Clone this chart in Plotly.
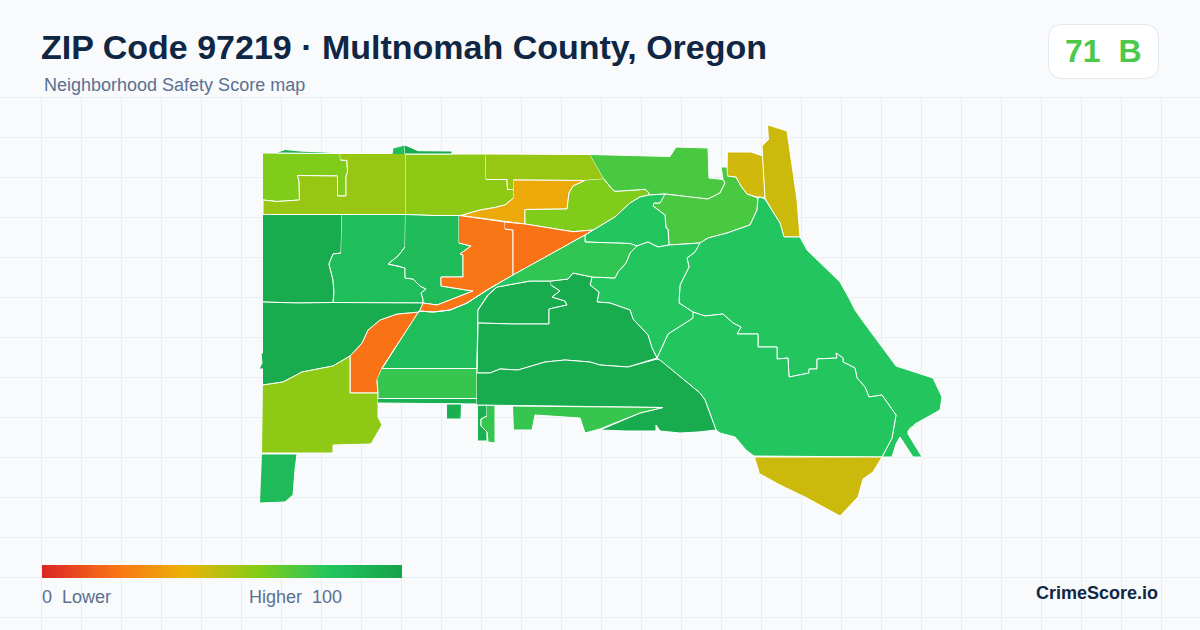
import plotly.graph_objects as go
from plotly.colors import sample_colorscale

# score colour ramp, same one the legend bar shows
score_stops = [0, 0.2, 0.4, 0.6, 0.8, 1]
score_colors = ['#dc2626', '#f97316', '#eab308', '#84cc16', '#22c55e', '#16a34a']
colorscale = [[s, c] for s, c in zip(score_stops, score_colors)]

title = 'ZIP Code 97219 · Multnomah County, Oregon'
subtitle = 'Neighborhood Safety Score map'
overall_score = '71\u00a0\u00a0B'
brand = 'CrimeScore.io'
legend_low = '0\u00a0\u00a0Lower'
legend_high = 'Higher\u00a0\u00a0100'
legend_values = list(range(0, 101))

# block group outlines, traced in map units
nw_lime = [(263, 153), (340, 153.5), (340.5, 160), (347, 160.5), (347.5, 172), (346, 176), (346, 196), (337.5, 196),
           (337.5, 176), (297.5, 175.5), (299, 181), (299.5, 200), (277, 201.5), (263, 200)]
nw_olive = [(340, 153.5), (405.5, 153.5), (405.5, 214.5), (263, 214.5), (263, 200), (277, 201.5), (299.5, 200),
            (299, 181), (297.5, 175.5), (337.5, 176), (337.5, 196), (346, 196), (346, 176), (347.5, 172),
            (347, 160.5), (340.5, 160)]
north_mid = [(405.5, 154), (485.5, 154), (486, 179.5), (507, 179.5), (507.5, 189.5), (513.5, 189.5), (513.5, 198),
             (505, 205), (495, 207.5), (480, 210), (461, 215.5), (433, 215.5), (405.5, 214.5)]
north_top = [(485.5, 154), (590, 154.5), (604, 179), (585, 180.5), (513.5, 180), (513.5, 189.5), (507.5, 189.5),
             (507, 179.5), (486, 179.5)]
amber = [(513.5, 180), (585, 180.5), (573, 186), (569, 193), (567, 209), (525, 209.5), (525, 224), (461, 215.5),
         (480, 210), (495, 207.5), (505, 205), (513.5, 198)]
north_east_lime = [(604, 179), (612, 189), (615, 191.3), (625, 190.7), (645, 189.3), (649, 192.7), (649, 195),
                   (640, 197), (630, 203), (615, 217), (595, 229), (593, 230), (573, 231.7), (525, 224),
                   (525, 209.5), (567, 209), (569, 193), (573, 186), (585, 180.5)]
north_green = [(590, 154.5), (650, 156), (670, 156.5), (676, 147), (708, 148), (709, 178), (723, 179.5), (725, 183),
               (720, 193), (708, 199), (697, 198), (665, 194), (649, 195), (649, 192.7), (645, 189.3),
               (625, 190.7), (615, 191.3), (612, 189), (604, 179)]
ridge_green = [(665, 194), (697, 198), (708, 199), (720, 193), (725, 183), (723, 179.5), (721, 167),
               (727, 167), (727.5, 176), (736, 177), (741, 186), (747, 194), (756, 197), (758, 198), (757, 210),
               (750, 225), (727, 233), (708, 238), (700, 243), (669, 245), (668, 229), (666, 228), (665, 215),
               (653, 206), (654, 203), (660, 203)]
yellow_left = [(728, 152), (751, 152), (763, 156), (765, 198), (760, 197), (757, 197), (747, 194), (741, 186),
               (736, 177), (727.5, 176)]
yellow_tall = [(768, 125), (787, 131), (792, 165), (797, 200), (800, 237), (784, 237), (780, 223), (773, 212),
               (765, 198), (763, 156), (762, 146), (769, 139)]
east_big = [(700, 243), (708, 238), (727, 233), (750, 225), (757, 210), (758, 198), (760, 197), (765, 199), (773, 212),
            (780, 223), (784, 237), (800, 237), (807, 250), (820, 263), (840, 282), (850, 300), (855, 310),
            (862, 320), (896, 366), (933, 378), (942, 397), (940, 410), (927, 417), (915, 424), (908, 431),
            (908, 434), (922, 457), (913, 457), (900, 437), (896, 444), (892, 457), (882, 457), (892, 438),
            (896, 415), (882, 395), (869, 397), (865, 387), (857, 378), (855, 368), (843, 362), (843, 358),
            (836, 353), (837, 358), (817, 359), (817, 369), (809, 369), (809, 373), (789, 377), (788, 358),
            (777, 359), (777, 347), (758, 347), (758, 334), (737, 334), (741, 327), (733, 323), (723, 314),
            (705, 316), (693, 312), (679, 303), (680, 285), (689, 267), (687, 258), (695, 252)]
south_east = [(693, 312), (705, 316), (723, 314), (733, 323), (741, 327), (737, 334), (758, 334), (758, 347),
              (777, 347), (777, 359), (788, 358), (789, 377), (809, 373), (809, 369), (817, 369), (817, 359),
              (837, 358), (836, 353), (843, 358), (843, 362), (855, 368), (857, 378), (865, 387), (869, 397),
              (882, 395), (896, 415), (892, 438), (882, 457), (754, 456), (746, 450), (735, 437), (720, 433),
              (716, 430), (705, 400), (700, 393), (660, 360), (657, 358), (668, 334), (693, 318)]
south_sliver = [(923, 420), (910, 428), (908, 432), (913, 427)]
yellow_south = [(755, 457), (882, 457), (873, 472), (863, 479), (858, 497), (840, 516), (805, 497), (780, 485),
                (760, 474)]
rail_north = [(585, 235), (595, 229), (615, 217), (630, 203), (640, 197), (649, 195), (665, 194), (660, 203),
              (654, 203), (653, 206), (665, 215), (666, 228), (668, 229), (669, 245), (658, 247), (648, 242),
              (637, 246), (585, 242)]
rail_area = [(585, 235), (585, 242), (630, 243.5), (637, 246), (630, 253), (626, 263), (618, 272), (615, 278),
             (592, 277), (573, 273), (568, 279), (551, 281), (530, 281), (497, 287), (488, 295), (478, 310),
             (477, 368.5), (382, 368.5), (397, 345), (419, 311), (433, 312), (450, 310), (467, 303), (487, 290),
             (513, 275)]
# lighter patch and a blend step on the east end of the rail area, no edge of their own
rail_east = [(585, 235), (585, 242), (630, 243.5), (637, 246), (630, 253), (626, 263), (618, 272), (615, 278),
             (592, 277), (573, 273), (568, 279), (551, 281), (530, 281), (518, 283), (518, 272)]
rail_blend = [(518, 272), (518, 283), (497, 287), (498, 284)]
center_green = [(637, 246), (648, 242), (658, 247), (669, 245), (700, 243), (695, 252), (687, 258), (689, 267),
                (680, 285), (679, 303), (693, 312), (693, 318), (668, 334), (657, 358), (652, 348), (648, 335),
                (633, 319), (630, 310), (610, 303), (597, 302), (599, 292), (590, 285), (592, 277), (615, 278),
                (618, 272), (626, 263), (630, 253)]
west_dark = [(263, 214.5), (342, 214.5), (341, 253), (333, 254), (329, 264), (333, 280), (334, 293), (333, 302.5),
             (298, 303), (263, 302)]
west_green = [(342, 214.5), (405.5, 214.5), (405, 247), (398, 256), (388, 264), (398, 266), (405, 268), (405, 278),
              (413, 279), (420, 286), (426, 289), (421, 293), (423, 299), (423, 303), (384, 303), (333, 302.5),
              (334, 293), (333, 280), (329, 264), (333, 254), (341, 253)]
mid_green = [(405.5, 214.5), (433, 215.5), (459, 215.5), (459, 243), (471, 246), (460, 254), (463, 255), (463, 277),
             (441, 277), (441, 286), (473, 291), (437, 305), (423, 303), (423, 299), (421, 293), (426, 289),
             (420, 286), (413, 279), (405, 278), (405, 268), (398, 266), (388, 264), (398, 256), (405, 247)]
orange_left = [(459, 215.5), (505, 222), (505, 229), (513, 230), (513, 275), (487, 290), (467, 303), (450, 310),
               (433, 312), (419, 311), (423, 303), (437, 305), (473, 291), (441, 286), (441, 277),
               (463, 277), (463, 255), (460, 254), (471, 246), (459, 243)]
orange_right = [(505, 222), (525, 224), (573, 231.7), (593, 230), (585, 235), (513, 275), (513, 230), (505, 229)]
orange_big = [(419, 312), (397, 314), (380, 320), (368, 330), (362, 343), (350, 356), (350, 393), (378, 393),
              (377, 380), (382, 368), (397, 345)]
sw_dark = [(263, 302), (298, 303), (333, 302.5), (384, 303), (423, 303), (419, 312), (397, 314), (380, 320),
           (368, 330), (362, 343), (350, 356), (333, 366), (302, 372), (283, 382), (263, 385)]
sw_dark_tab = [(263, 353), (261, 353), (262, 363), (259, 369), (263, 369)]
sw_olive = [(263, 385), (283, 382), (302, 372), (333, 366), (350, 356), (350, 393), (378, 393), (378, 417),
            (382, 425), (371, 444), (333, 445), (333, 453), (262, 453)]
sw_foot = [(262, 454), (297, 454), (295, 470), (293, 495), (285, 502), (260, 503)]
south_band = [(382, 368.5), (477, 368.5), (477, 398.5), (378, 398.5), (378, 393), (377, 380)]
south_strip = [(378, 398.5), (477, 398.5), (477, 404), (413, 403.5), (378, 403)]
south_square = [(447, 404), (461.5, 404), (461, 419), (447, 419)]
stem_dark = [(478, 405), (487, 405), (487, 416), (481, 419), (481, 426), (487, 432), (487, 441), (478, 441)]
stem_light = [(487, 405), (495, 405), (495, 443), (488, 442), (487, 432), (481, 426), (481, 419), (487, 416)]
upper_dark = [(478, 310), (488, 295), (497, 287), (530, 281), (551, 281), (551, 285), (560, 291), (552, 297),
              (565, 301), (567, 305), (549, 309), (549, 324), (513, 324), (478, 323)]
central_dark = [(551, 281), (568, 279), (573, 273), (592, 277), (590, 285), (599, 292), (597, 302), (610, 303),
                (630, 310), (633, 319), (648, 335), (652, 348), (657, 358), (628, 367), (600, 365), (590, 362),
                (565, 360), (545, 362), (518, 370), (500, 369), (490, 373), (477, 373), (478, 323), (513, 324),
                (549, 324), (549, 309), (567, 305), (565, 301), (552, 297), (560, 291), (551, 285)]
lower_dark = [(477, 373), (490, 373), (500, 369), (518, 370), (545, 362), (565, 360), (590, 362), (600, 365),
              (628, 367), (657, 359), (660, 360), (700, 393), (705, 400), (716, 430), (698, 432), (680, 433),
              (660, 431), (656, 425), (656, 431), (626, 431), (600, 430), (640, 413), (663, 407.5), (580, 406.5),
              (477, 405)]
wedge = [(513, 406), (580, 406.5), (663, 407.5), (640, 413), (600, 429), (585, 433), (580, 418), (535, 415),
         (532, 430), (514, 430)]
top_tab_a = [(278, 152), (285, 149.5), (300, 151), (333, 152.5), (333, 153.5), (278, 153)]
top_tab_b = [(392, 154), (393, 148), (405, 145), (405, 154)]
top_tab_c = [(405, 145), (418, 150.7), (452, 151), (452, 154), (405, 154)]

region_outlines = [nw_lime, nw_olive, north_mid, north_top, amber, north_east_lime, north_green, ridge_green,
                   yellow_left, yellow_tall, east_big, south_east, south_sliver, yellow_south, rail_north, rail_area,
                   center_green, west_dark, west_green, mid_green, orange_left, orange_right,
                   orange_big, sw_dark, sw_dark_tab, sw_olive, sw_foot, south_band, south_strip,
                   south_square, stem_dark, stem_light, upper_dark, central_dark, lower_dark, wedge, top_tab_a,
                   top_tab_b, top_tab_c]
region_scores = [61, 56, 58, 56, 37, 61, 72, 72, 45, 46, 80, 80, 61, 46, 80, 84, 80, 95, 84, 85, 21, 20, 20,
                 95, 95, 58, 86, 76, 93, 93, 92, 76, 95, 95, 95, 76, 92, 84, 95]
patch_outlines = [rail_blend, rail_east]
patch_scores = [80, 77]

fig = go.Figure()

# the ramp under the map
fig.add_trace(go.Heatmap(z=[legend_values], x0=43.8, dx=3.564, y0=571.5, dy=13, zmin=0, zmax=100,
                         colorscale=colorscale, showscale=False, hoverinfo='skip'))

for outline, score in zip(region_outlines, region_scores):
    fig.add_trace(go.Scatter(
        x=[p[0] for p in outline],
        y=[p[1] for p in outline],
        mode='lines',
        fill='toself',
        fillcolor=sample_colorscale(colorscale, score / 100)[0],
        line=dict(color='#ffffff', width=1),
        hoverinfo='skip',
        showlegend=False,
    ))

for outline, score in zip(patch_outlines, patch_scores):
    fig.add_trace(go.Scatter(
        x=[p[0] for p in outline],
        y=[p[1] for p in outline],
        mode='lines',
        fill='toself',
        fillcolor=sample_colorscale(colorscale, score / 100)[0],
        line=dict(width=0),
        hoverinfo='skip',
        showlegend=False,
    ))

# redraw the rail area edge over its patches
fig.add_trace(go.Scatter(x=[p[0] for p in rail_area + rail_area[:1]], y=[p[1] for p in rail_area + rail_area[:1]],
                         mode='lines', line=dict(color='#ffffff', width=1), hoverinfo='skip', showlegend=False))


def label(x, y, text, size, color, anchor='left', bold=False):
    fig.add_annotation(x=x, y=y, xref='x', yref='y', text='<b>%s</b>' % text if bold else text, showarrow=False,
                       xanchor=anchor, yanchor='middle', borderpad=0, borderwidth=0,
                       font=dict(family='Liberation Sans', size=size, color=color))


label(41, 47, title, 34, '#0f2744', bold=True)
label(44, 85, subtitle, 18, '#5a7090')
label(1102.5, 51, overall_score, 32, '#4cc94a', anchor='center', bold=True)
label(42, 597, legend_low, 18, '#5a7090')
label(342, 597, legend_high, 18, '#5a7090', anchor='right')
label(1158, 593, brand, 18, '#0f2744', anchor='right', bold=True)

fig.update_layout(
    width=1200,
    height=630,
    margin=dict(l=0, r=0, t=0, b=0),
    paper_bgcolor='#f8fafc',
    plot_bgcolor='#f8fafc',
    showlegend=False,
    xaxis=dict(range=[0, 1200], tick0=1, dtick=40, showgrid=True, gridcolor='#e6eff3', gridwidth=1, zeroline=False,
               showticklabels=False, ticks='', fixedrange=True),
    yaxis=dict(range=[630, 0], tick0=17, dtick=40, showgrid=True, gridcolor='#e6eff3', gridwidth=1, zeroline=False,
               showticklabels=False, ticks='', fixedrange=True),
    shapes=[
        dict(type='rect', layer='between', x0=0, x1=1200, y0=0, y1=96.5, fillcolor='#f8fafc', line=dict(width=0)),
        dict(type='path', layer='between',
             path='M 1062 24.5 H 1144 Q 1158.5 24.5 1158.5 38 V 64 Q 1158.5 78.5 1144 78.5 H 1062 '
                  'Q 1048.5 78.5 1048.5 64 V 38 Q 1048.5 24.5 1062 24.5 Z',
             fillcolor='#ffffff', line=dict(color='#e2e8f0', width=1)),
    ],
)

fig.write_html("out.html", config=dict(displayModeBar=False),
               post_script="document.body.style.margin='0';document.body.style.overflow='hidden';")
